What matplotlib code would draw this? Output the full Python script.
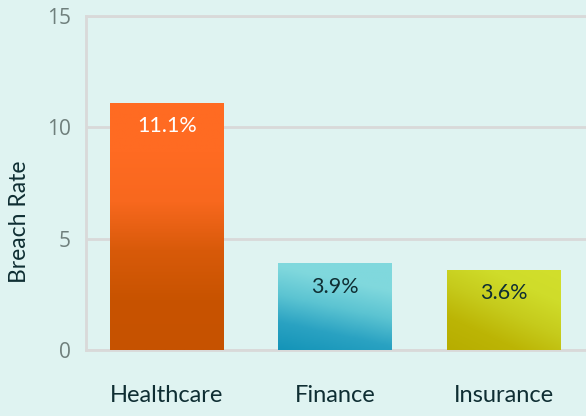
import numpy as np
import matplotlib
matplotlib.use("Agg")
import matplotlib.pyplot as plt
from matplotlib.colors import LinearSegmentedColormap

categories = ["Healthcare", "Finance", "Insurance"]
values = [11.1, 3.9, 3.6]
labels = ["11.1%", "3.9%", "3.6%"]
yticks = [0, 5, 10, 15]

bg = "#dff3f1"
fig = plt.figure(figsize=(5.86, 4.16), dpi=100, facecolor=bg)
ax = fig.add_axes([86/586, 66/416, 500/586, 334/416], facecolor=bg)

x = np.arange(len(categories))
bars = ax.bar(x, values, width=0.676, color="none", zorder=3)

grads = [
    (["#c65200", "#c85300", "#d85a0a", "#f8681e", "#ff6b22", "#ff6b22"], (0.0, 1.0)),
    (["#1494b8", "#2aa2c2", "#5cc4d2", "#80d8dd", "#80d9dd"], (0.25, 0.9)),
    (["#b7ad00", "#bcb505", "#c6cb1c", "#cfdc2a", "#d2df2c"], (0.45, 0.7)),
]

for bar, (cols, (wx, wy)) in zip(bars, grads):
    cmap = LinearSegmentedColormap.from_list("g", cols)
    xs = np.linspace(0, 1, 60)
    ys = np.linspace(0, 1, 200)
    XX, YY = np.meshgrid(xs, ys)
    T = (wx * XX + wy * YY) / (wx + wy)
    bx, by = bar.get_x(), bar.get_y()
    w, h = bar.get_width(), bar.get_height()
    im = ax.imshow(T, cmap=cmap, origin="lower", aspect="auto",
                   extent=[bx, bx + w, by, by + h], zorder=3, vmin=0, vmax=1)
    im.set_clip_path(bar)

label_colors = ["white", "#0f2e33", "#0f2e33"]
for xi, v, lab, c in zip(x, values, labels, label_colors):
    ax.annotate(lab, (xi, v), xytext=(0, -17), textcoords="offset points",
                ha="center", va="center", fontsize=15.5, color=c,
                family="Lato", zorder=5)

ax.set_xlim(-0.48, 2.49)
ax.set_ylim(0, 15)
ax.set_yticks(yticks)
ax.set_yticklabels([str(t) for t in yticks], fontsize=15, color="#6f7f7c",
                   family="Open Sans")
ax.set_xticks(x)
ax.set_xticklabels(categories, fontsize=17, color="#0f2e33", family="Lato")
ax.tick_params(axis="both", length=0)
ax.tick_params(axis="y", pad=11)
ax.tick_params(axis="x", pad=25)
ax.set_ylabel("Breach Rate", fontsize=16.5, color="#0f2e33", family="Lato")
ax.yaxis.set_label_coords(-0.112, 0.383)

ax.grid(axis="y", color="#d9d9d9", linewidth=2, zorder=0)
ax.set_axisbelow(True)
for s in ["left", "bottom", "top"]:
    ax.spines[s].set_color("#d9d9d9")
    ax.spines[s].set_linewidth(2)
ax.spines["right"].set_visible(False)

fig.savefig("out.png", dpi=100, facecolor=bg)
